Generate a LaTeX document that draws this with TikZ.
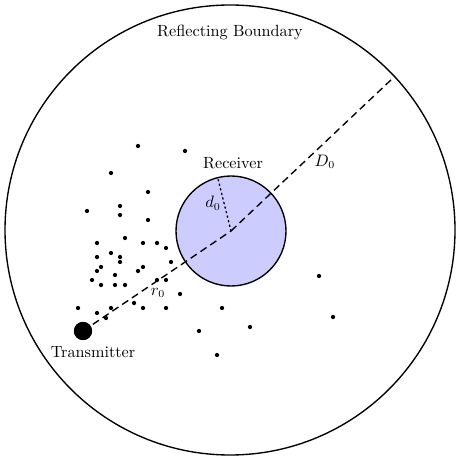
\documentclass[tikz,border=0pt]{standalone}
\usetikzlibrary{calc}
\definecolor{recv}{RGB}{204,204,255}
\tikzset{
  boundary/.style={circle, draw, line width=0.9pt, inner sep=0pt, minimum size=297pt},
  recvbox/.style={circle, draw, fill=recv, line width=0.9pt, inner sep=0pt, minimum size=72.6pt},
  molecule/.style={circle, fill=black, inner sep=0pt, minimum size=2.8pt},
  txbox/.style={circle, fill=black, inner sep=0pt, minimum size=12pt},
  pathline/.style={line width=0.9pt, dash pattern=on 4.8pt off 3pt},
  radline/.style={line width=0.9pt, dash pattern=on 0.9pt off 2.2pt, line cap=round},
  lbl/.style={inner sep=1pt, font=\fontsize{10.7pt}{13pt}\selectfont}
}
\begin{document}
\begin{tikzpicture}[x=0.66pt,y=-0.66pt]
\useasboundingbox (0,0) rectangle (456,461);
\node[boundary] (bnd) at (230,230) {};
\node[recvbox] (rx) at (231,231) {};
\coordinate (rc) at (231,231);
\node[txbox] (tx) at (83,331) {};
\coordinate (bend) at (bnd.43);
\coordinate (rtop) at (rx.104);
\draw[pathline] (tx.center) -- (rc);
\draw[pathline] (rc) -- (bend);
\draw[radline] (rc) -- (rtop);
\node[txbox] (tx2) at (83,331) {};
\foreach \p [count=\i] in {(138,146),(185,151),(111,173),(148,192),(120,206),(87,211),(120,215),(148,220),(125,238),(97,243),(143,243),(157,243),(166,248),(97,257),(111,253),(120,257),(120,262),(101,267),(97,271),(138,271),(143,267),(171,262),(115,275),(92,280),(101,285),(115,285),(125,285),(157,280),(166,280),(180,294),(78,308),(97,313),(111,308),(106,318),(134,303),(143,308),(166,308),(199,331),(319,276),(222,308),(333,317),(250,327),(217,355)}
  \node[molecule] (m\i) at \p {};
\node[lbl] (tbound) at (230,32) {Reflecting Boundary};
\node[lbl] (trecv) at (233,163) {Receiver};
\node[lbl] (td) at (213,203) {$d_0$};
\node[lbl] (tD) at (325,162) {$D_0$};
\node[lbl] (tr) at (158,293) {$r_0$};
\node[lbl] (ttx) at (93,352) {Transmitter};
\end{tikzpicture}
\end{document}
